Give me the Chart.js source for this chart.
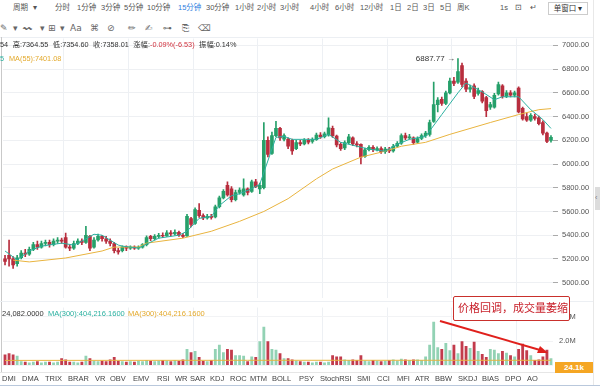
<!DOCTYPE html>
<html>
<head>
<meta charset="utf-8">
<script src="https://cdn.jsdelivr.net/npm/chart.js@4.4.0/dist/chart.umd.min.js"></script>
<style>
  body { margin: 0; width: 600px; height: 386px; overflow: hidden; background: #fff; position: relative;
         font-family: "Liberation Sans", "Noto Sans CJK SC", sans-serif; }
  .t { position: absolute; white-space: nowrap; line-height: 1; }
  canvas { position: absolute; left: 0; }
  .line { position: absolute; }
</style>
</head>
<body>

<div class="line" style="left:0;top:37px;width:593px;height:1px;background:#eceff3"></div>
<div class="line" style="left:1px;top:37px;width:1px;height:336px;background:#c9c9c9"></div>
<div class="line" style="left:593px;top:0;width:1px;height:386px;background:#e8e8e8"></div>
<div class="line" style="left:595px;top:187px;width:5px;height:23px;background:#dcdcdc"></div>
<div class="t" style="left:595px;top:194px;font-size:7px;color:#777">‹</div>
<div class="line" style="left:0;top:301px;width:593px;height:1px;background:#eceff3"></div>
<div class="line" style="left:0;top:372px;width:593px;height:1px;background:#e6e6e6"></div>
<div class="line" style="left:0;top:385px;width:600px;height:1px;background:#b9c8dc"></div>

<div id="toolbar"></div>

<canvas id="price" width="592" height="276" style="top:30px"></canvas>
<canvas id="volume" width="592" height="79" style="top:297px"></canvas>

<div class="t" style="left:0;top:41px;font-size:7.3px;color:#333;word-spacing:2.5px">54 高:7364.55 低:7354.60 收:7358.01 涨幅:<span style="color:#d0303c">-0.09%(-6.53)</span> 振幅:0.14%</div>
<div class="t" style="left:0;top:55px;font-size:7.3px;color:#2bb0a0">5</div>
<div class="t" style="left:9px;top:55px;font-size:7.3px;color:#e3a92c">MA(55):7401.08</div>

<div class="t" style="left:2px;top:310px;font-size:7.5px;color:#333">24,082.0000</div>
<div class="t" style="left:48px;top:310px;font-size:7.5px;color:#2bb0a0">MA(300):404,216.1600</div>
<div class="t" style="left:128px;top:310px;font-size:7.5px;color:#e3a92c">MA(300):404,216.1600</div>

<div class="t" style="left:453px;top:296px;width:115px;height:23px;border:1px solid #c9302c;border-radius:2px;background:#fff;"></div>
<div class="t" style="left:458px;top:302px;font-size:11px;color:#c8202a;font-family:'Noto Sans CJK SC',sans-serif">价格回调，成交量萎缩</div>
<svg class="t" style="left:0;top:0" width="600" height="386">
  <line x1="440" y1="321" x2="540" y2="350" stroke="#e0201c" stroke-width="2"/>
  <polygon points="548,353 537,353 540,346" fill="#e0201c"/>
</svg>

<div class="t" style="left:555px;top:362px;width:38px;height:11px;background:#f5a623;color:#fff;font-size:8px;font-weight:bold;text-align:center;line-height:11px">24.1k</div>

<div id="tabs"></div>

<script>
// candles, 15 minute bars, left to right
const opens = [5200,5230,5200,5160,5210,5250,5240,5280,5320,5300,5330,5340,5320,5350,5360,5380,5300,5290,5330,5350,
  5340,5390,5300,5360,5390,5370,5350,5330,5270,5270,5300,5290,5300,5290,5300,5320,5390,5370,5390,5400,
  5395,5420,5410,5425,5400,5395,5540,5500,5610,5565,5545,5560,5555,5640,5715,5820,5790,5700,5760,5740,
  5790,5770,5850,5790,5800,6200,6090,6240,6300,6210,6210,6200,6130,6180,6170,6200,6190,6205,6245,6230,
  6245,6300,6235,6165,6135,6180,6220,6170,6165,6065,6120,6140,6120,6130,6105,6125,6110,6150,6175,6240,
  6220,6220,6185,6215,6240,6250,6360,6500,6545,6510,6600,6700,6690,6830,6700,6630,6660,6595,6610,6560,
  6480,6480,6590,6660,6570,6600,6580,6640,6470,6400,6370,6400,6390,6350,6260,6200];
const highs = [5230,5360,5220,5230,5270,5280,5300,5340,5350,5350,5360,5360,5370,5380,5375,5417,5320,5350,5370,5370,
  5475,5400,5380,5410,5400,5390,5370,5340,5290,5310,5310,5310,5310,5310,5330,5395,5400,5405,5415,5420,
  5440,5440,5445,5435,5415,5575,5550,5630,5667,5580,5575,5575,5655,5730,5785,5850,5810,5780,5800,5875,
  5800,5865,5870,5840,6350,6230,6270,6360,6310,6255,6220,6210,6200,6200,6215,6215,6220,6260,6265,6270,
  6390,6320,6245,6180,6195,6250,6230,6190,6170,6135,6155,6155,6145,6145,6140,6140,6165,6190,6255,6260,
  6250,6230,6230,6255,6275,6370,6690,6560,6565,6615,6725,6730,6887.77,6850,6720,6665,6675,6640,6620,6570,
  6520,6595,6690,6670,6620,6620,6615,6650,6480,6430,6425,6420,6405,6365,6270,6240];
const lows = [5150,5140,5120,5140,5200,5220,5230,5270,5280,5290,5310,5300,5310,5330,5330,5290,5270,5280,5320,5320,
  5330,5270,5290,5350,5350,5330,5310,5250,5240,5260,5270,5280,5280,5280,5290,5310,5355,5360,5375,5380,
  5390,5395,5400,5390,5380,5390,5470,5490,5550,5530,5535,5535,5545,5630,5705,5730,5680,5690,5745,5730,
  5740,5760,5800,5750,5790,6060,6080,6230,6200,6195,6130,6080,6120,6155,6160,6170,6175,6200,6215,6220,
  6235,6225,6145,6115,6120,6170,6155,6145,6000,6055,6110,6105,6110,6090,6090,6095,6100,6140,6165,6205,
  6210,6165,6175,6205,6225,6235,6350,6440,6495,6500,6590,6660,6680,6650,6610,6605,6550,6580,6515,6400,
  6460,6470,6580,6555,6560,6565,6565,6430,6370,6360,6360,6370,6330,6245,6180,6185];
const closes = [5180,5200,5150,5210,5250,5240,5280,5320,5300,5330,5340,5320,5350,5360,5350,5300,5290,5330,5350,5340,
  5400,5290,5360,5390,5370,5350,5330,5270,5260,5300,5290,5300,5290,5300,5320,5380,5370,5390,5400,5395,
  5420,5410,5425,5400,5390,5560,5490,5615,5565,5545,5560,5550,5640,5715,5770,5740,5700,5760,5780,5790,
  5760,5850,5810,5820,6200,6080,6240,6300,6220,6240,6150,6110,6180,6170,6200,6185,6205,6245,6230,6255,
  6305,6240,6160,6130,6180,6230,6170,6160,6060,6120,6140,6120,6130,6105,6125,6110,6150,6175,6240,6220,
  6230,6180,6215,6240,6260,6350,6500,6540,6510,6600,6700,6680,6780,6670,6630,6645,6570,6620,6530,6450,
  6500,6580,6670,6570,6600,6580,6600,6440,6380,6370,6410,6385,6340,6260,6190,6225];
// volume, millions
const volumes = [0.9,1.0,0.9,0.8,0.35,0.3,0.25,0.3,0.35,0.25,0.3,0.3,0.25,0.3,0.6,0.5,0.3,0.3,0.25,0.3,
  0.8,0.6,0.4,0.35,0.4,0.35,0.5,0.7,0.4,0.35,0.3,0.35,0.3,0.4,0.35,0.45,0.4,0.35,0.4,0.45,
  0.4,0.35,0.45,0.4,0.5,1.35,1.1,1.2,0.7,0.4,0.35,0.45,1.35,1.7,1.1,1.35,1.3,0.85,0.85,0.8,
  0.35,0.75,0.7,2.0,3.2,2.0,1.35,1.3,1.0,0.6,0.6,0.5,0.4,0.35,0.3,0.3,0.25,0.3,0.3,0.25,
  0.3,0.85,0.75,0.75,0.5,0.45,0.5,0.45,0.85,0.4,0.35,0.45,0.4,0.35,0.4,0.45,0.5,0.4,0.55,0.5,
  0.45,0.5,0.5,0.45,0.75,1.7,3.6,1.5,1.35,1.85,1.25,1.7,1.0,2.0,1.6,1.45,1.95,1.2,0.95,0.7,
  1.35,1.3,1.0,1.2,1.05,0.85,0.75,1.35,1.8,1.25,0.85,0.45,0.5,0.75,1.3,0.6];
// moving averages: [bar index, value]
const maShortPts = [[0,5267],[3,5192],[6,5267],[9,5308],[14,5333],[17,5317],[19,5350],[22,5408],[24,5400],[26,5358],
  [28,5317],[29,5308],[33,5292],[34,5308],[38,5375],[43,5400],[45,5433],[48,5542],[51,5558],[53,5650],
  [56,5733],[58,5750],[61,5792],[63,5830],[67,6225],[69,6233],[71,6208],[77,6208],[80,6250],[83,6183],
  [87,6150],[90,6125],[94,6108],[97,6167],[100,6208],[104,6233],[108,6417],[112,6600],[114,6683],[118,6608],
  [121,6542],[123,6567],[127,6567],[130,6458],[133,6375],[135,6300]];
const maLongPts = [[2,5190],[6,5175],[15,5208],[24,5267],[27,5300],[33,5300],[35,5333],[44,5375],[51,5433],[58,5517],
  [64,5600],[70,5708],[77,5875],[81,5958],[88,6058],[94,6108],[98,6150],[104,6183],[110,6250],[120,6350],
  [127,6417],[132,6458],[135,6467]];
const volMaPts = [[0,0.42],[60,0.43],[135,0.43]];
const priceTicks = [5000, 5200, 5400, 5600, 5800, 6000, 6200, 6400, 6600, 6800, 7000];
const volTicks = [0, 2, 4];
const priceRange = [4875, 7058];
const volRange = [0, 4.78];

const labels = closes.map((_, i) => String(i));
const fontFamily = 'Liberation Sans, Arial, sans-serif';
const upColor = '#26a06a', downColor = '#b82e3e';

function fromPts(pts) {
  const arr = labels.map(() => null);
  pts.forEach(([i, v]) => { arr[i] = v; });
  return arr;
}

const candleColors = closes.map((c, i) => c >= opens[i] ? upColor : downColor);
const volColors = closes.map((c, i) => c >= opens[i] ? '#92d2b4' : '#c23b4c');

// toolbar
const tb = document.getElementById('toolbar');
[['周期',13],['▾',33],['分时',55],['1分钟',77],['3分钟',101],['5分钟',124],['10分钟',147],['15分钟',178],['30分钟',206],
 ['1小时',235],['2小时',257],['3小时',280],['4小时',310],['6小时',335],['12小时',360],['1日',390],['2日',407],
 ['3日',423],['5日',440],['周K',457],['1s',500],['⊡',515],['↵',530]].forEach(([txt, x]) => {
  const d = document.createElement('div');
  d.className = 't';
  d.style.cssText = `left:${x}px;top:4px;font-size:7.5px;color:${txt === '15分钟' ? '#2f7fe0' : '#555'}`;
  d.textContent = txt;
  tb.appendChild(d);
});
const win = document.createElement('div');
win.className = 't';
win.style.cssText = 'left:548px;top:2px;width:38px;height:11px;border:1px solid #ccc;font-size:7.5px;color:#333;line-height:11px;text-align:center';
win.textContent = '单窗口 ▾';
tb.appendChild(win);
[['✎',0],['▾',13],['〰',23],['▾',40],['⊞',48],['▾',60],['Aa',70],['⌘',90],['⊘',107],['✏',128],['✍',145],['⊶',163],['⎘',182],['⌫',198]].forEach(([txt, x]) => {
  const d = document.createElement('div');
  d.className = 't';
  d.style.cssText = `left:${x}px;top:24px;font-size:9px;color:#666;font-family:DejaVu Sans,sans-serif`;
  d.textContent = txt;
  tb.appendChild(d);
});

// indicator tabs
const tabs = document.getElementById('tabs');
[['DMI',2],['DMA',22],['TRIX',45],['BRAR',68],['VR',95],['OBV',110],['EMV',133],['RSI',157],['WR',175],['SAR',190],
 ['KDJ',210],['ROC',230],['MTM',250],['BOLL',272],['PSY',299],['StochRSI',320],['SMI',357],['CCI',377],['MFI',397],
 ['ATR',415],['BBW',435],['SKDJ',458],['BIAS',482],['DPO',505],['AO',527]].forEach(([txt, x]) => {
  const d = document.createElement('div');
  d.className = 't';
  d.style.cssText = `left:${x}px;top:375px;font-size:7.5px;color:#444`;
  d.textContent = txt;
  tabs.appendChild(d);
});

const xGrid = {
  offset: true,
  drawTicks: false,
  color: ctx => (ctx.index % 16 === 15 ? '#edf0f4' : 'rgba(0,0,0,0)')
};

// label at the highest high
const maxLabel = {
  id: 'maxLabel',
  afterDatasetsDraw(chart) {
    let idx = 0;
    highs.forEach((h, i) => { if (h > highs[idx]) idx = i; });
    const x = chart.scales.x.getPixelForValue(idx);
    const y = chart.scales.y.getPixelForValue(highs[idx]);
    const c = chart.ctx;
    c.save();
    c.font = '8px ' + fontFamily;
    c.fillStyle = '#333';
    c.textAlign = 'right';
    c.textBaseline = 'middle';
    c.fillText(highs[idx].toFixed(2) + ' →', x - 3, y);
    c.restore();
  }
};

new Chart(document.getElementById('price'), {
  type: 'bar',
  data: {
    labels: labels,
    datasets: [
      { type: 'line', data: fromPts(maShortPts), borderColor: '#2bb0a0', borderWidth: 1, pointRadius: 0, spanGaps: true, order: 0 },
      { type: 'line', data: fromPts(maLongPts), borderColor: '#e9b43f', borderWidth: 1, pointRadius: 0, spanGaps: true, order: 0 },
      { data: lows.map((l, i) => [l, highs[i]]), backgroundColor: candleColors, barThickness: 1, grouped: false, order: 2 },
      { data: opens.map((o, i) => [o, closes[i]]), backgroundColor: candleColors, barThickness: 3, grouped: false, order: 1 }
    ]
  },
  options: {
    responsive: false,
    animation: false,
    devicePixelRatio: 1,
    layout: { padding: { left: 3, top: 8, bottom: 6, right: 0 } },
    plugins: { legend: { display: false }, tooltip: { enabled: false } },
    scales: {
      x: { offset: true, grid: xGrid, ticks: { display: false, autoSkip: false }, border: { display: false } },
      y: {
        position: 'right',
        min: priceRange[0],
        max: priceRange[1],
        afterFit: s => { s.width = 39; },
        afterBuildTicks: s => { s.ticks = priceTicks.map(v => ({ value: v })); },
        ticks: { padding: 4, color: '#555', font: { size: 7.5, family: fontFamily }, callback: v => v.toFixed(2) },
        grid: { color: '#eef0f3', tickLength: 5, tickColor: '#aaa' },
        border: { display: false }
      }
    }
  },
  plugins: [maxLabel]
});

new Chart(document.getElementById('volume'), {
  type: 'bar',
  data: {
    labels: labels,
    datasets: [
      { type: 'line', data: fromPts(volMaPts), borderColor: '#e9b43f', borderWidth: 1, pointRadius: 0, spanGaps: true, order: 0 },
      { data: volumes, backgroundColor: volColors, barPercentage: 0.7, categoryPercentage: 1, order: 1 }
    ]
  },
  options: {
    responsive: false,
    animation: false,
    devicePixelRatio: 1,
    layout: { padding: { left: 3, top: 6, bottom: 8, right: 0 } },
    plugins: { legend: { display: false }, tooltip: { enabled: false } },
    scales: {
      x: { offset: true, grid: xGrid, ticks: { display: false, autoSkip: false }, border: { display: false } },
      y: {
        position: 'right',
        min: volRange[0],
        max: volRange[1],
        afterFit: s => { s.width = 39; },
        afterBuildTicks: s => { s.ticks = volTicks.map(v => ({ value: v })); },
        ticks: { padding: 6, color: '#555', font: { size: 7.5, family: fontFamily }, callback: v => (v === 0 ? '' : v.toFixed(1) + 'M') },
        grid: { color: '#f2f3f5', drawTicks: false },
        border: { display: false }
      }
    }
  }
});
</script>
</body>
</html>
